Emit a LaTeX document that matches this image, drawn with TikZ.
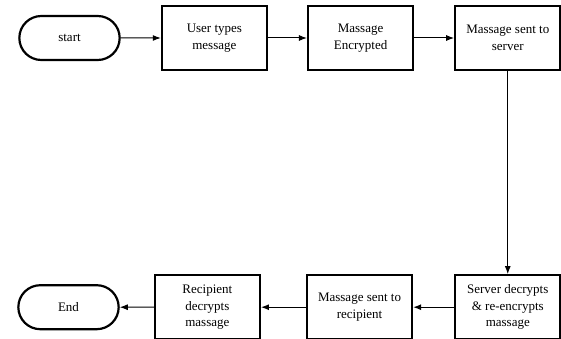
\documentclass[tikz,border=0pt]{standalone}
\usepackage{fontspec}
\setmainfont{Liberation Serif}
\usetikzlibrary{shapes, shapes.misc, arrows.meta, positioning}
\tikzstyle{block} = [draw, line width=2.2pt, fill=white, rectangle, minimum width=105pt, minimum height=64pt, align=center, inner sep=1pt, font=\fontsize{13}{16.5}\selectfont]
\tikzstyle{term} = [draw, line width=2.2pt, fill=white, rounded rectangle, minimum width=107pt, minimum height=44pt, font=\fontsize{13}{16.5}\selectfont]
\tikzstyle{line} = [draw, line width=1pt, -{Latex[length=8pt,width=6pt]}]

\begin{document}
\begin{tikzpicture}[x=1pt,y=1pt]
    \useasboundingbox (0,0) rectangle (561,-339);
    \node [term] (start) at (69.5,-38) {start};
    \node [block, right=40pt of start] (type) {User types\\message};
    \node [block, right=39pt of type] (enc) {Massage\\Encrypted};
    \node [block, right=40pt of enc] (toserver) {Massage sent to\\server};
    \node [block, below=203pt of toserver] (server) {Server decrypts\\\& re-encrypts\\massage};
    \node [block, left=41pt of server] (torecip) {Massage sent to\\recipient};
    \node [block, left=45pt of torecip] (recip) {Recipient\\decrypts\\massage};
    \node [term, left=34pt of recip] (end) {End};
    \path [line] (start) -- (type);
    \path [line] (type) -- (enc);
    \path [line] (enc) -- (toserver);
    \path [line] (toserver) -- (server);
    \path [line] (server) -- (torecip);
    \path [line] (torecip) -- (recip);
    \path [line] (recip) -- (end);
\end{tikzpicture}
\end{document}
